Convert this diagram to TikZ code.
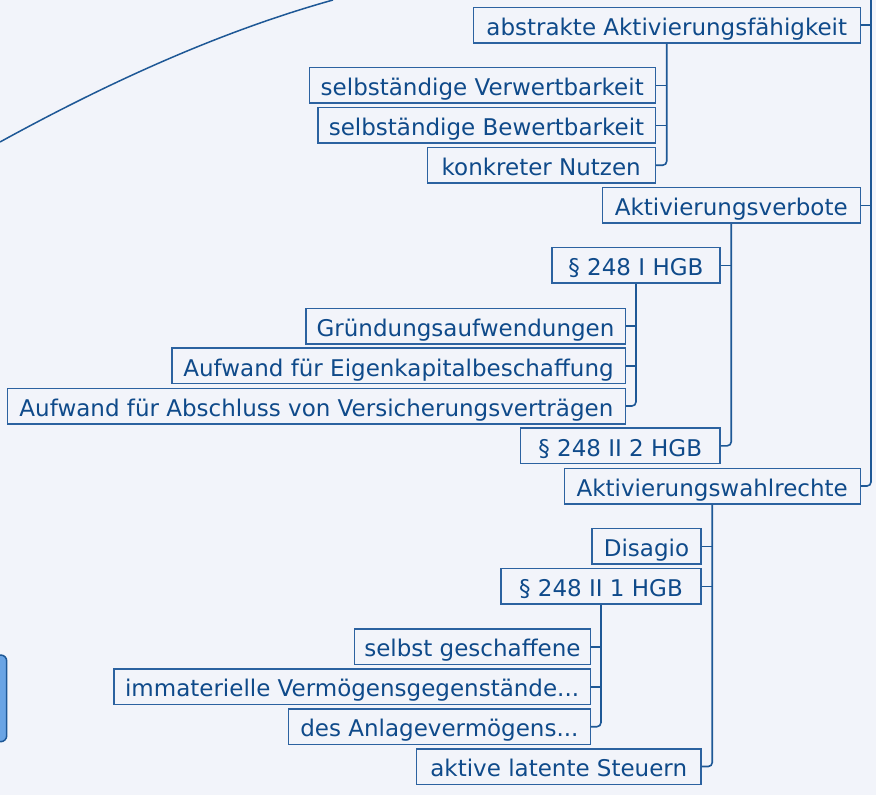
\documentclass[tikz,border=0pt]{standalone}
\usepackage{fontspec}
\setmainfont{DejaVu Sans}
\definecolor{bg}{HTML}{F2F4FA}
\definecolor{txt}{HTML}{0F4A8A}
\definecolor{edgec}{HTML}{2C62A0}
\definecolor{linec}{HTML}{1E5896}
\definecolor{bluefill}{HTML}{6AA4E4}
\begin{document}
\begin{tikzpicture}[x=1pt,y=-1pt,
  topic/.style={draw=edgec, line width=1.5pt, fill=bg, text=txt, anchor=east,
    minimum height=35.5pt, inner sep=0pt, text height=21pt, text depth=0.5pt,
    font=\fontsize{23}{27}\selectfont},
  conn/.style={draw=linec, line width=1.6pt},
  lastconn/.style={conn, rounded corners=4pt}]
\fill[bg] (0,0) rectangle (876,795);
\useasboundingbox (0,0) rectangle (876,795);
\clip (0,0) rectangle (876,795);

% big curve and partial central node
\draw[conn, line width=1.5pt] (0,142) .. controls (111,81) and (222,31) .. (333,0);
\draw[draw=linec, line width=1.5pt, fill=bluefill, rounded corners=6pt] (-40,655) rectangle (6.7,741.7);

% level 1
\node[topic, minimum width=387] (abs) at (861,25) {abstrakte Aktivierungsfähigkeit};
\node[topic, minimum width=258] (verb) at (861,205.3) {Aktivierungsverbote};
\node[topic, minimum width=296] (wahl) at (861,486) {Aktivierungswahlrechte};
\coordinate (top) at (871,-5);

% children of abs
\node[topic, minimum width=346] (verw) at (656,85.3) {selbständige Verwertbarkeit};
\node[topic, minimum width=337.5] (bew) at (656,125.3) {selbständige Bewertbarkeit};
\node[topic, minimum width=228] (konk) at (656,165.2) {konkreter Nutzen};

% children of verb
\node[topic, minimum width=168] (pI) at (720.7,265.3) {§ 248 I HGB};
\node[topic, minimum width=199.5] (pII2) at (720.7,445.8) {§ 248 II 2 HGB};

% children of pI
\node[topic, minimum width=319.5] (gruend) at (626,326.2) {Gründungsaufwendungen};
\node[topic, minimum width=453.5] (eigen) at (626,365.8) {Aufwand für Eigenkapitalbeschaffung};
\node[topic, minimum width=617.7] (absch) at (626,406) {Aufwand für Abschluss von Versicherungsverträgen};

% children of wahl
\node[topic, minimum width=109] (dis) at (701.7,546.3) {Disagio};
\node[topic, minimum width=200] (pII1) at (701.7,586.3) {§ 248 II 1 HGB};
\node[topic, minimum width=284.4] (akt) at (701.7,766.5) {aktive latente Steuern};

% children of pII1
\node[topic, minimum width=235.7] (selbst) at (591,646.7) {selbst geschaffene};
\node[topic, minimum width=476.3] (immat) at (591,686.7) {immaterielle Vermögensgegenstände...};
\node[topic, minimum width=301.7] (anl) at (591,726.7) {des Anlagevermögens...};

% connectors
\draw[lastconn] (top) |- (wahl.east);
\draw[conn] (abs.east) -- (abs.east -| top);
\draw[conn] (verb.east) -- (verb.east -| top);

\draw[lastconn] (abs.south) |- (konk.east);
\draw[conn] (verw.east) -- (verw.east -| abs.south);
\draw[conn] (bew.east) -- (bew.east -| abs.south);

\draw[lastconn] (verb.south) |- (pII2.east);
\draw[conn] (pI.east) -- (pI.east -| verb.south);

\draw[lastconn] (pI.south) |- (absch.east);
\draw[conn] (gruend.east) -- (gruend.east -| pI.south);
\draw[conn] (eigen.east) -- (eigen.east -| pI.south);

\draw[lastconn] (wahl.south) |- (akt.east);
\draw[conn] (dis.east) -- (dis.east -| wahl.south);
\draw[conn] (pII1.east) -- (pII1.east -| wahl.south);

\draw[lastconn] (pII1.south) |- (anl.east);
\draw[conn] (selbst.east) -- (selbst.east -| pII1.south);
\draw[conn] (immat.east) -- (immat.east -| pII1.south);
\end{tikzpicture}
\end{document}
